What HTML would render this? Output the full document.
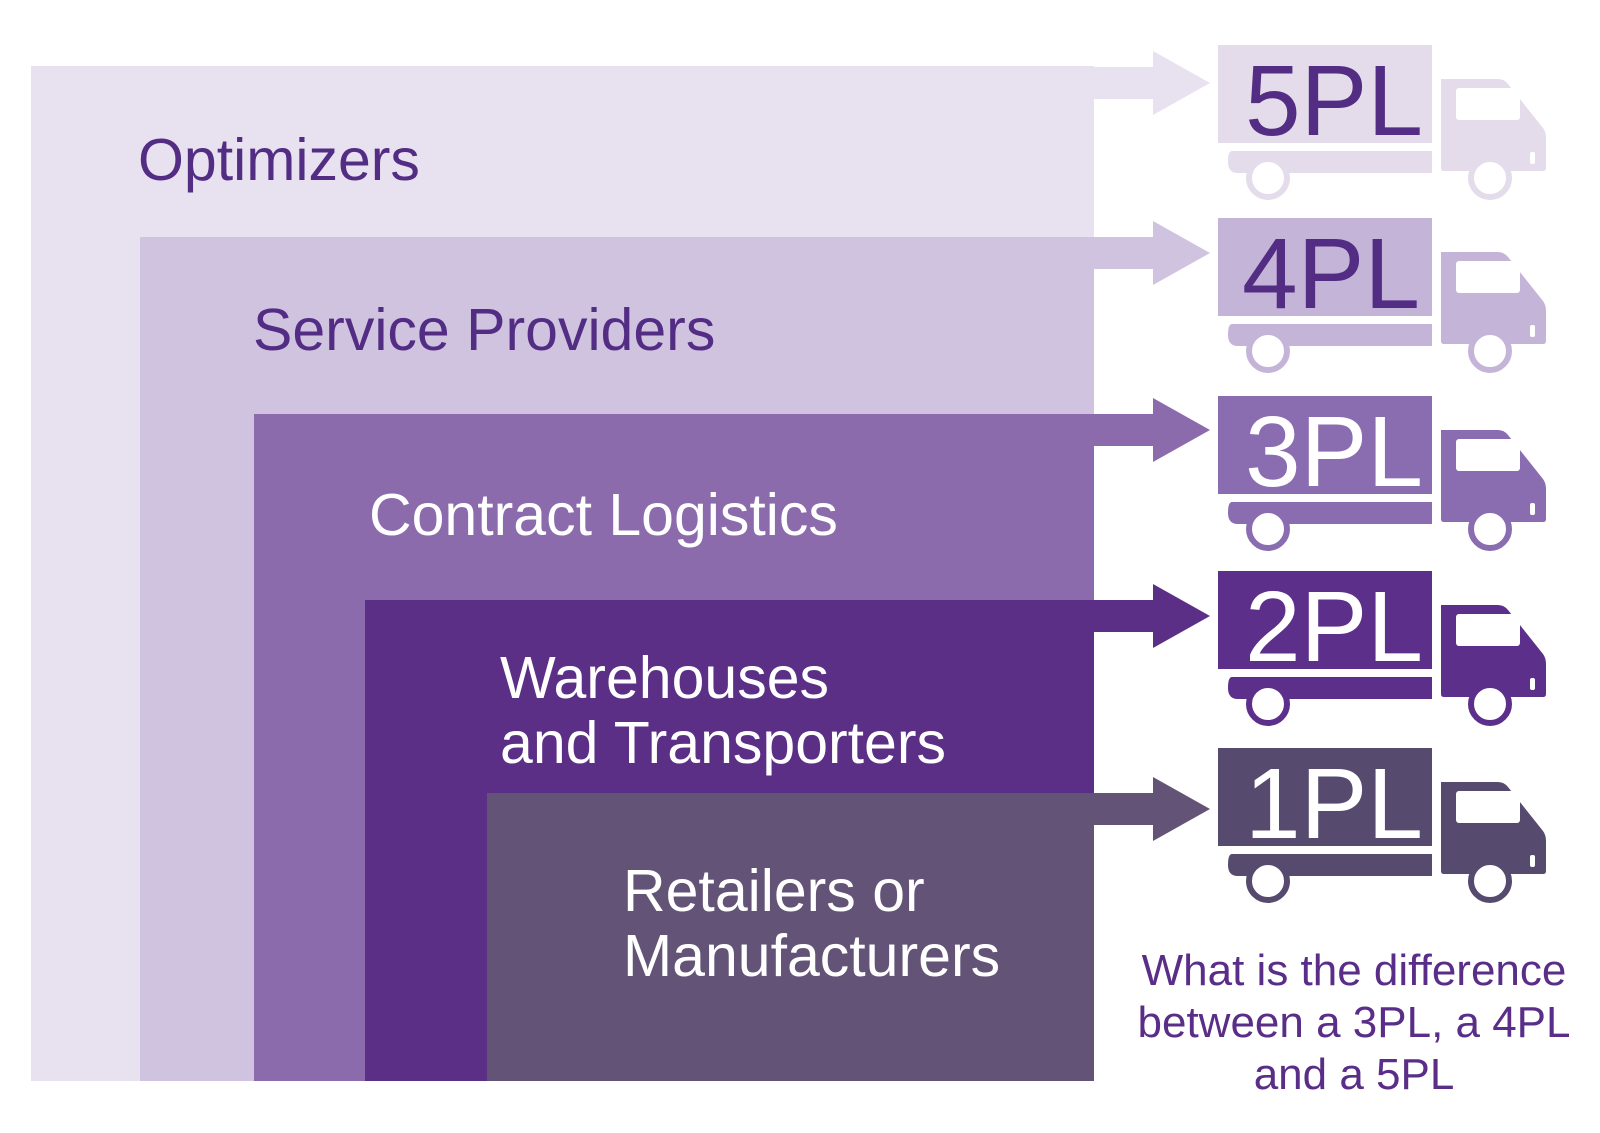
<!DOCTYPE html>
<html><head><style>
body{margin:0;background:#fff;width:1600px;height:1128px;overflow:hidden}
</style></head><body>
<svg width="1600" height="1128" viewBox="0 0 1600 1128" xmlns="http://www.w3.org/2000/svg" font-family="Liberation Sans, Arial, sans-serif">
<defs>
<g id="cab">
<path d="M1441 79 H1498 Q1504 79 1508 84 L1543 128 Q1546 132 1546 138 V168 Q1546 171 1543 171 H1444 Q1441 171 1441 168 Z"/>
<path d="M1232 151 H1432 V173 H1238 Q1228 173 1228 162 Q1228 151 1232 151 Z"/>
</g>
</defs>
<rect x="31" y="66" width="1063" height="1015" fill="#e8e1ef"/>
<rect x="140" y="237" width="954" height="844" fill="#d0c3e0"/>
<rect x="254" y="414" width="840" height="667" fill="#8c6bad"/>
<rect x="365" y="600" width="729" height="481" fill="#5c2f86"/>
<rect x="487" y="793" width="607" height="288" fill="#625377"/>
<g font-size="59">
<text x="138" y="180" fill="#532d84">Optimizers</text>
<text x="253" y="350" fill="#532d84">Service Providers</text>
<text x="369" y="535" fill="#fff">Contract Logistics</text>
<text x="500" y="698" fill="#fff">Warehouses</text>
<text x="500" y="763" fill="#fff">and Transporters</text>
<text x="623" y="911" fill="#fff">Retailers or</text>
<text x="623" y="976" fill="#fff">Manufacturers</text>
</g>
<g font-size="44" fill="#5a2e88" text-anchor="middle">
<text x="1354" y="985">What is the difference</text>
<text x="1354" y="1037">between a 3PL, a 4PL</text>
<text x="1354" y="1089">and a 5PL</text>
</g>
<g transform="translate(0,0)" fill="#e4dcea">
<path d="M1094 67 H1153 V51 L1210 83 L1153 115 V99 H1094 Z" fill="#e8e1ef"/>
<rect x="1218" y="45" width="214" height="98"/>
<use href="#cab"/>
<rect x="1530" y="152" width="5" height="12" rx="2" fill="#fff"/>
<rect x="1456" y="88" width="64" height="32" rx="3" fill="#fff"/>
<circle cx="1268" cy="178" r="19" fill="#fff" stroke="#e4dcea" stroke-width="6"/>
<circle cx="1490" cy="178" r="19" fill="#fff" stroke="#e4dcea" stroke-width="6"/>
<text x="1245" y="135" font-size="100" fill="#532d84">5PL</text>
</g>
<g transform="translate(0,173)" fill="#c4b5d8">
<path d="M1094 64 H1153 V48 L1210 80 L1153 112 V96 H1094 Z" fill="#d0c3e0"/>
<rect x="1218" y="45" width="214" height="98"/>
<use href="#cab"/>
<rect x="1530" y="152" width="5" height="12" rx="2" fill="#fff"/>
<rect x="1456" y="88" width="64" height="32" rx="3" fill="#fff"/>
<circle cx="1268" cy="178" r="19" fill="#fff" stroke="#c4b5d8" stroke-width="6"/>
<circle cx="1490" cy="178" r="19" fill="#fff" stroke="#c4b5d8" stroke-width="6"/>
<text x="1242" y="135" font-size="100" fill="#532d84">4PL</text>
</g>
<g transform="translate(0,351)" fill="#8a6cb0">
<path d="M1094 63 H1153 V47 L1210 79 L1153 111 V95 H1094 Z" fill="#8c6bad"/>
<rect x="1218" y="45" width="214" height="98"/>
<use href="#cab"/>
<rect x="1530" y="152" width="5" height="12" rx="2" fill="#fff"/>
<rect x="1456" y="88" width="64" height="32" rx="3" fill="#fff"/>
<circle cx="1268" cy="178" r="19" fill="#fff" stroke="#8a6cb0" stroke-width="6"/>
<circle cx="1490" cy="178" r="19" fill="#fff" stroke="#8a6cb0" stroke-width="6"/>
<text x="1245" y="135" font-size="100" fill="#fff">3PL</text>
</g>
<g transform="translate(0,526)" fill="#5c2f8a">
<path d="M1094 74 H1153 V58 L1210 90 L1153 122 V106 H1094 Z" fill="#5c2f86"/>
<rect x="1218" y="45" width="214" height="98"/>
<use href="#cab"/>
<rect x="1530" y="152" width="5" height="12" rx="2" fill="#fff"/>
<rect x="1456" y="88" width="64" height="32" rx="3" fill="#fff"/>
<circle cx="1268" cy="178" r="19" fill="#fff" stroke="#5c2f8a" stroke-width="6"/>
<circle cx="1490" cy="178" r="19" fill="#fff" stroke="#5c2f8a" stroke-width="6"/>
<text x="1245" y="135" font-size="100" fill="#fff">2PL</text>
</g>
<g transform="translate(0,703)" fill="#574a6f">
<path d="M1094 90 H1153 V74 L1210 106 L1153 138 V122 H1094 Z" fill="#625377"/>
<rect x="1218" y="45" width="214" height="98"/>
<use href="#cab"/>
<rect x="1530" y="152" width="5" height="12" rx="2" fill="#fff"/>
<rect x="1456" y="88" width="64" height="32" rx="3" fill="#fff"/>
<circle cx="1268" cy="178" r="19" fill="#fff" stroke="#574a6f" stroke-width="6"/>
<circle cx="1490" cy="178" r="19" fill="#fff" stroke="#574a6f" stroke-width="6"/>
<text x="1245" y="135" font-size="100" fill="#fff">1PL</text>
</g>
</svg>
</body></html>
